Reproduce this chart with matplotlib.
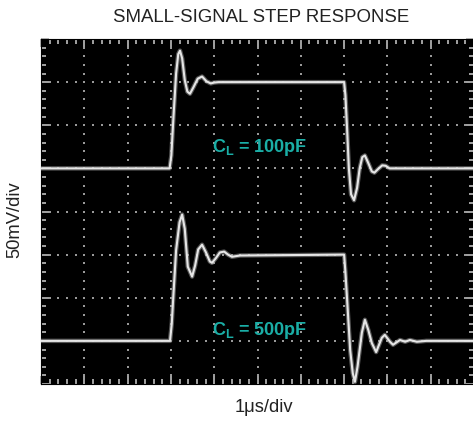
import numpy as np
import matplotlib
matplotlib.use("Agg")
import matplotlib.pyplot as plt

plt.rcParams['font.family'] = ['Liberation Sans', 'DejaVu Sans']
plt.rcParams['mathtext.fontset'] = 'custom'
plt.rcParams['mathtext.rm'] = 'Liberation Sans'
plt.rcParams['mathtext.bf'] = 'Liberation Sans:bold'

title = "SMALL-SIGNAL STEP RESPONSE"
xlabel = "1\u03bcs/div"
ylabel = "50mV/div"
label_100 = r"$\mathbf{C_L}$ = 100pF"
label_500 = r"$\mathbf{C_L}$ = 500pF"

# trace for C_L = 100pF (time in div, voltage in div)
t_100 = [0.0, 2.97, 3.01, 3.06, 3.12, 3.17, 3.21, 3.26, 3.32, 3.38, 3.44, 3.52, 3.62,
         3.72, 3.82, 3.92, 4.0, 4.1, 7.0, 7.03, 7.07, 7.11, 7.16, 7.23, 7.30, 7.36,
         7.42, 7.48, 7.56, 7.64, 7.70, 7.78, 7.88, 7.96, 8.05, 10.0]
v_100 = [5.0, 5.0, 5.3, 6.2, 7.2, 7.65, 7.73, 7.55, 7.05, 6.78, 6.73, 6.88, 7.08,
         7.13, 7.02, 6.97, 6.99, 7.0, 7.0, 6.7, 5.9, 5.0, 4.4, 4.26, 4.55, 5.0,
         5.26, 5.30, 5.12, 4.93, 4.90, 4.98, 5.07, 5.06, 5.0, 5.0]

# trace for C_L = 500pF
t_500 = [0.0, 2.98, 3.02, 3.06, 3.12, 3.20, 3.26, 3.32, 3.39, 3.49, 3.56, 3.63, 3.72,
         3.81, 3.90, 3.95, 4.04, 4.13, 4.23, 4.32, 4.41, 4.6, 7.0, 7.03, 7.07, 7.14,
         7.20, 7.25, 7.31, 7.41, 7.48, 7.56, 7.64, 7.74, 7.87, 7.94, 8.06, 8.13,
         8.29, 8.41, 8.52, 8.68, 8.9, 10.0]
v_500 = [1.0, 1.0, 1.4, 2.1, 3.1, 3.75, 3.93, 3.60, 2.72, 2.49, 2.75, 3.12, 3.23,
         3.05, 2.84, 2.81, 2.92, 3.05, 3.07, 3.0, 2.95, 2.98, 3.0, 2.6, 1.95, 0.79,
         0.25, 0.05, 0.4, 1.19, 1.49, 1.25, 0.95, 0.74, 1.07, 1.14, 0.98, 0.91,
         1.02, 0.98, 1.02, 0.98, 1.0, 1.0]

n_xdiv = 10
n_ydiv = 8

fig = plt.figure(figsize=(4.73, 4.22), dpi=100)
fig.patch.set_facecolor('white')
ax = fig.add_axes([41/473, 38/422, 433/473, 345/422])
ax.set_facecolor('black')
ax.set_xlim(0, n_xdiv)
ax.set_ylim(0, n_ydiv)

# graticule dots
minor = np.round(np.arange(0, n_xdiv + 0.001, 0.2), 3)
minor_y = np.round(np.arange(0, n_ydiv + 0.001, 0.2), 3)
gx, gy = [], []
for xv in range(1, n_xdiv):
    for yv in minor_y:
        gx.append(xv); gy.append(yv)
for yv in range(1, n_ydiv):
    for xv in minor:
        gx.append(xv); gy.append(yv)
ax.scatter(gx, gy, s=4.5, marker='s', color='#999999', linewidths=0, zorder=1)

ax.set_xticks(range(0, n_xdiv + 1))
ax.set_yticks(range(0, n_ydiv + 1))
ax.set_xticks(minor, minor=True)
ax.set_yticks(minor_y, minor=True)
ax.tick_params(which='both', direction='in', top=True, right=True,
               labelbottom=False, labelleft=False, color='#b0b0b0')
ax.tick_params(which='major', length=6, width=1.3)
ax.tick_params(which='minor', length=3.5, width=1.3)
for s in ax.spines.values():
    s.set_color('black')

for t, v in ((t_100, v_100), (t_500, v_500)):
    ax.plot(t, v, color='#9a9a9a', lw=3.2, alpha=0.55, zorder=3, solid_joinstyle='round')
    ax.plot(t, v, color='#e6e6e6', lw=1.5, zorder=4, solid_joinstyle='round')

teal = '#1aaea6'
ax.text(5.05, 5.37, label_100, color=teal, fontsize=13, fontweight='bold',
        ha='center', va='baseline', zorder=5)
ax.text(5.05, 1.14, label_500, color=teal, fontsize=13, fontweight='bold',
        ha='center', va='baseline', zorder=5)

fig.text(0.5 * (113 + 409) / 473, 1 - 18 / 422, title, ha='center', va='center',
         fontsize=13.4, color='#222222')
fig.text(264 / 473, 1 - 407 / 422, xlabel, ha='center', va='center',
         fontsize=13.2, color='#222222')
fig.text(15 / 473, 1 - 220 / 422, ylabel, ha='center', va='center', rotation=90,
         fontsize=13.2, color='#222222')

fig.savefig('out.png', dpi=100, facecolor='white')
